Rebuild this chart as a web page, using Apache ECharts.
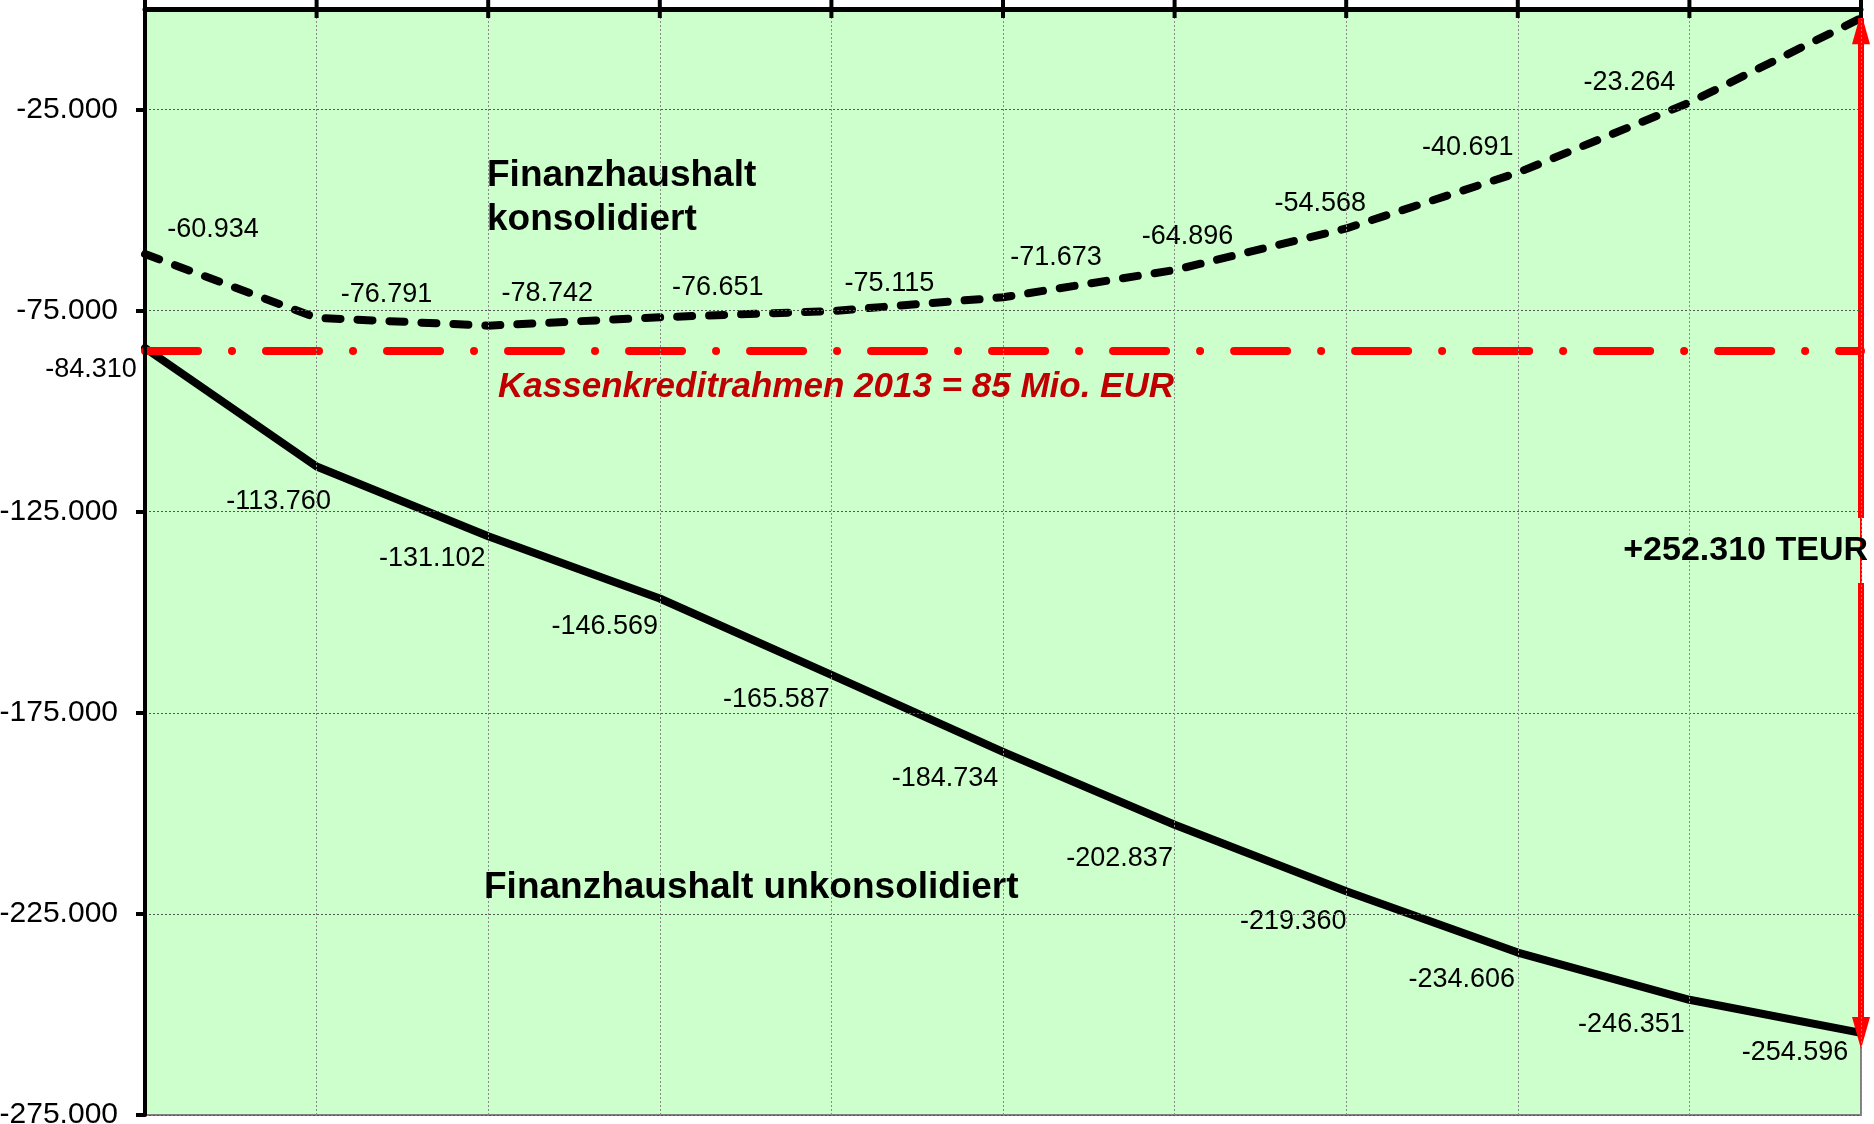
<!DOCTYPE html>
<html>
<head>
<meta charset="utf-8">
<script src="https://cdn.jsdelivr.net/npm/echarts@6/dist/echarts.min.js"></script>
<style>
html,body{margin:0;padding:0;background:#fff;}
#chart{width:1874px;height:1124px;}
</style>
</head>
<body>
<div id="chart"></div>
<script>
// ---- data ----
const categories = ['2013','2014','2015','2016','2017','2018','2019','2020','2021','2022','2023'];
const unkonsolidiert = [-84310, -113760, -131102, -146569, -165587, -184734, -202837, -219360, -234606, -246351, -254596];
const konsolidiert = [-60934, -76791, -78742, -76651, -75115, -71673, -64896, -54568, -40691, -23264, -2286];
const kreditrahmen = -85000;
const yMin = -275000, yMax = 0, yStep = 50000;
const seriesNames = ['Finanzhaushalt unkonsolidiert', 'Finanzhaushalt konsolidiert'];
const annotationLimit = 'Kassenkreditrahmen 2013 = 85 Mio. EUR';

// ---- styling / label layout ----
const FONT = '"Liberation Sans", Arial, Helvetica, sans-serif';
const unkLabelShift = [[-54,21],[-38,35],[-56,22],[-55,28],[-55,25],[-58,27],[-55,34],[-53,30],[-56,27],[-58,25],[-66,20]];
const konLabelShift = [[68,-25],[70,-23],[59,-32],[58,-30],[58,-28],[53,-40],[13,-33],[-26,-25],[-50,-25],[-60,-20],null];

function fmt(v){
  const s = Math.abs(Math.round(v)).toString().replace(/\B(?=(\d{3})+(?!\d))/g, '.');
  return (v < 0 ? '-' : '') + s;
}

const last = categories.length - 1;
const diff = konsolidiert[last] - unkonsolidiert[last];

function buildData(values, shifts){
  return values.map((v, i) => {
    const sh = shifts[i];
    if (!sh) return { value: v, label: { show: false } };
    return { value: v, label: { offset: sh } };
  });
}

const labelBase = {
  show: true,
  position: 'inside',
  color: '#000',
  fontFamily: FONT,
  fontSize: 27,
  formatter: p => fmt(p.value)
};

const staticGraphics = [
  { type: 'rect', z: 50, shape: { x: 1850, y: 518, width: 10, height: 65 }, style: { fill: '#CCFFCC' } },
  { type: 'rect', z: 50, shape: { x: 1862, y: 518, width: 12, height: 65 }, style: { fill: '#ffffff' } },
  { type: 'text', z: 60, style: { x: 487, y: 176, text: 'Finanzhaushalt', fill: '#000', font: 'bold 37px ' + FONT, verticalAlign: 'middle', align: 'left' } },
  { type: 'text', z: 60, style: { x: 487, y: 220, text: 'konsolidiert', fill: '#000', font: 'bold 37px ' + FONT, verticalAlign: 'middle', align: 'left' } },
  { type: 'text', z: 60, style: { x: 484, y: 888, text: seriesNames[0], fill: '#000', font: 'bold 37px ' + FONT, verticalAlign: 'middle', align: 'left' } },
  { type: 'text', z: 60, style: { x: 498, y: 387, text: annotationLimit, fill: '#C00000', font: 'italic bold 35px ' + FONT, verticalAlign: 'middle', align: 'left' } },
  { type: 'text', z: 60, style: { x: 1868, y: 551, text: '+' + fmt(diff) + ' TEUR', fill: '#000', font: 'bold 34px ' + FONT, verticalAlign: 'middle', align: 'right' } }
];

const chart = echarts.init(document.getElementById('chart'), null, {renderer: 'canvas'});
const option = {
  animation: false,
  backgroundColor: '#ffffff',
  grid: {
    left: 145, right: 13, top: 9, bottom: 9,
    outerBoundsMode: 'none',
    containLabel: false,
    show: true,
    backgroundColor: '#CCFFCC',
    borderColor: '#808080',
    borderWidth: 2
  },
  xAxis: {
    type: 'category',
    data: categories,
    position: 'top',
    boundaryGap: false,
    axisLine: { show: true, onZero: false, lineStyle: { color: '#000', width: 5 } },
    axisTick: { show: false },
    axisLabel: { show: false },
    splitLine: { show: true, lineStyle: { color: '#8a8a8a', width: 1, type: [2, 2] } },
    z: 10
  },
  yAxis: {
    type: 'value',
    min: yMin, max: yMax, interval: yStep,
    axisLine: { show: true, onZero: false, lineStyle: { color: '#000', width: 4 } },
    axisTick: { show: true, length: 9, lineStyle: { color: '#000', width: 4 } },
    axisLabel: {
      show: true, margin: 27, color: '#000', fontFamily: FONT, fontSize: 30,
      showMaxLabel: false,
      formatter: v => fmt(v)
    },
    splitLine: { show: true, lineStyle: { color: '#555', width: 1, type: [2, 2] } },
    z: 10
  },
  series: [
    {
      name: seriesNames[0],
      type: 'line',
      data: buildData(unkonsolidiert, unkLabelShift),
      symbol: 'circle',
      symbolSize: 1,
      clip: false,
      itemStyle: { color: 'rgba(0,0,0,0)' },
      lineStyle: { color: '#000', width: 8, cap: 'round', join: 'round' },
      label: labelBase,
      z: 3,
      markLine: {
        silent: true,
        animation: false,
        symbol: 'none',
        label: { show: false },
        lineStyle: { color: '#FF0000', width: 8, type: [53, 34, 0.01, 34], cap: 'round' },
        data: [{ yAxis: kreditrahmen }],
        z: 5
      }
    },
    {
      name: seriesNames[1],
      type: 'line',
      data: buildData(konsolidiert, konLabelShift),
      symbol: 'circle',
      symbolSize: 1,
      clip: false,
      itemStyle: { color: 'rgba(0,0,0,0)' },
      lineStyle: { color: '#000', width: 8, type: [15, 17], cap: 'round', join: 'round' },
      label: labelBase,
      z: 3,
      markLine: {
        silent: true,
        animation: false,
        symbol: ['triangle', 'triangle'],
        symbolSize: [18, 32],
        symbolOffset: [[0, 10], [0, 0]],
        label: { show: false },
        lineStyle: { color: '#FF0000', width: 6, type: 'solid' },
        data: [[
          { coord: [categories[last], konsolidiert[last]] },
          { coord: [categories[last], unkonsolidiert[last]] }
        ]]
      }
    }
  ],
  graphic: staticGraphics
};
chart.setOption(option);

// crossing tick marks on the top category axis, placed through the axis scales
const yTop = chart.convertToPixel({ yAxisIndex: 0 }, yMax);
const tickMarks = categories.map(c => {
  const x = chart.convertToPixel({ xAxisIndex: 0 }, c);
  return { type: 'line', z: 70, shape: { x1: x, y1: yTop - 9, x2: x, y2: yTop + 9 }, style: { stroke: '#000', lineWidth: 4 } };
});
chart.setOption({ graphic: staticGraphics.concat(tickMarks) });
</script>
</body>
</html>
